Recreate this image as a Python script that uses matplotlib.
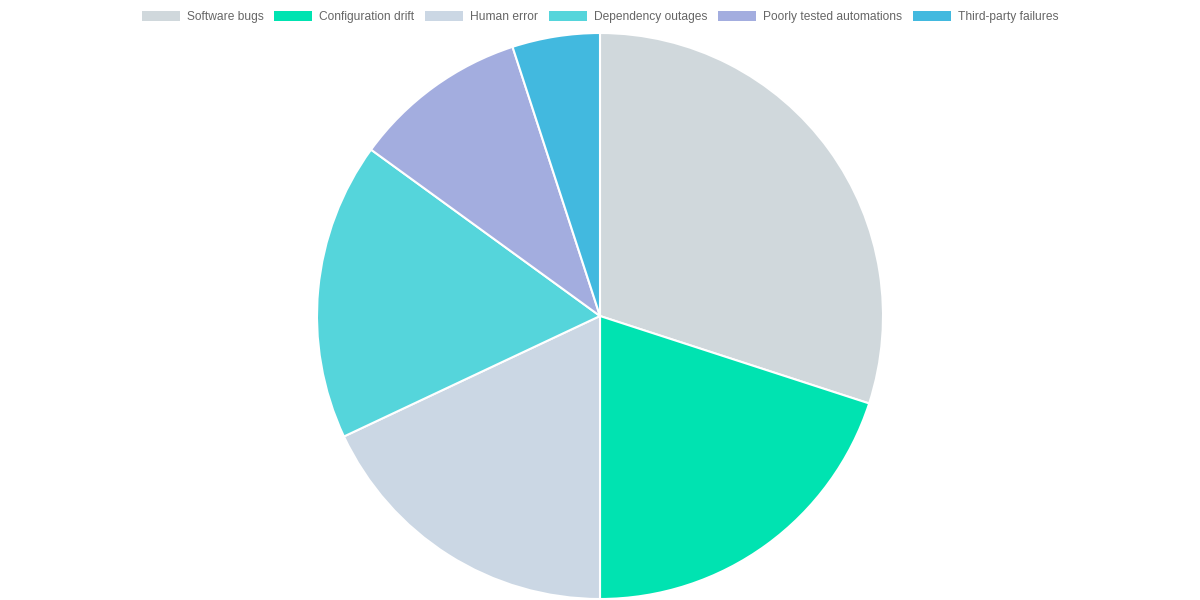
import matplotlib.pyplot as plt
from matplotlib.patches import Patch

labels = ['Software bugs', 'Configuration drift', 'Human error',
          'Dependency outages', 'Poorly tested automations', 'Third-party failures']
values = [30, 20, 18, 17, 10, 5]
colors = ['#d0d8dc', '#00e3b1', '#cbd7e4', '#55d5db', '#a3addf', '#42b9df']

plt.rcParams['font.family'] = ['Liberation Sans', 'DejaVu Sans']

fig = plt.figure(figsize=(12, 6), dpi=100)
ax = fig.add_axes([0, 0, 1, 1])
ax.set_xlim(0, 1200)
ax.set_ylim(0, 600)
ax.set_aspect('equal')
ax.axis('off')

ax.pie(values, colors=colors, startangle=90, counterclock=False,
       center=(600, 284), radius=283,
       wedgeprops=dict(edgecolor='white', linewidth=1.5))
ax.set_xlim(0, 1200)
ax.set_ylim(0, 600)

# legend font 12px
fs = 12 * 72 / 100
handles = [Patch(facecolor=c, edgecolor='none') for c in colors]
fig.legend(handles, labels, loc='center', bbox_to_anchor=(0.5, 1 - 17 / 600),
           ncol=6, frameon=False, fontsize=fs, labelcolor='#666666',
           handlelength=38 / 12, handleheight=10 / 12, handletextpad=7 / 12,
           columnspacing=0.9, borderaxespad=0, borderpad=0)

fig.savefig('out.png', dpi=100)
